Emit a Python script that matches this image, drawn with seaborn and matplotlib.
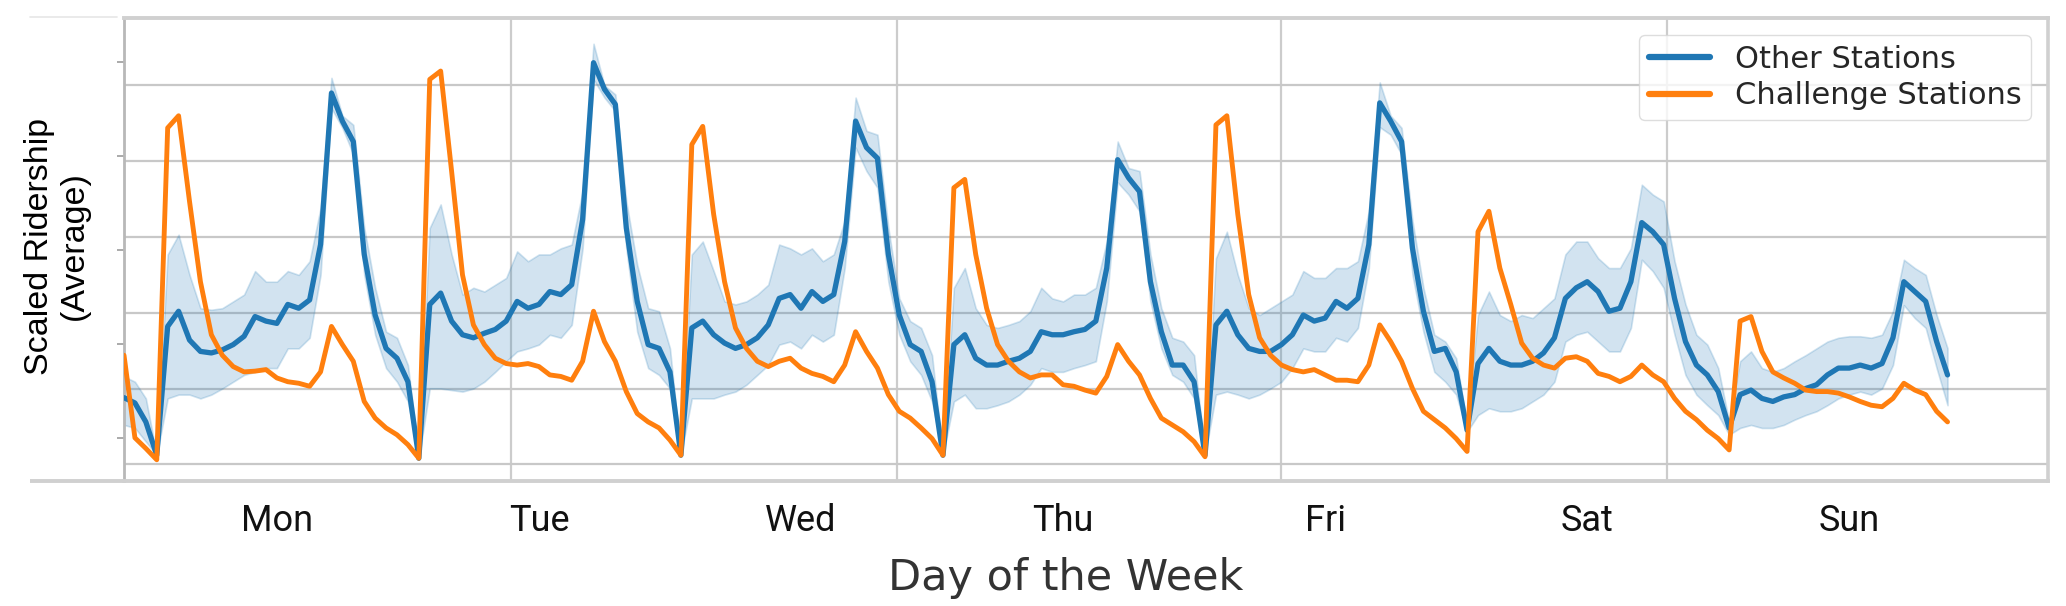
import numpy as np
import pandas as pd
import matplotlib
matplotlib.use("Agg")
import matplotlib.pyplot as plt
from matplotlib.lines import Line2D
from matplotlib.ticker import FixedLocator
import seaborn as sns

# ---------------- data (hourly, Monday 00:00 .. Sunday 23:00) ----------------
day_labels = ["Mon", "Tue", "Wed", "Thu", "Fri", "Sat", "Sun"]

challenge = [
    1.44, 0.35, 0.21, 0.06, 4.44, 4.60, 3.47, 2.41, 1.71, 1.44, 1.29, 1.22, 1.23, 1.25, 1.14, 1.09, 1.07, 1.03, 1.22, 1.82, 1.58, 1.36, 0.83, 0.61,
    0.48, 0.39, 0.26, 0.08, 5.08, 5.19, 3.87, 2.50, 1.84, 1.58, 1.40, 1.33, 1.31, 1.33, 1.29, 1.18, 1.16, 1.11, 1.36, 2.02, 1.62, 1.36, 0.96, 0.67,
    0.56, 0.48, 0.32, 0.12, 4.22, 4.46, 3.30, 2.41, 1.80, 1.53, 1.36, 1.29, 1.36, 1.40, 1.27, 1.20, 1.16, 1.09, 1.31, 1.75, 1.49, 1.27, 0.92, 0.70,
    0.61, 0.48, 0.34, 0.12, 3.65, 3.76, 2.77, 2.06, 1.58, 1.36, 1.22, 1.14, 1.18, 1.18, 1.05, 1.03, 0.98, 0.94, 1.16, 1.58, 1.36, 1.18, 0.87, 0.61,
    0.52, 0.43, 0.30, 0.10, 4.48, 4.60, 3.30, 2.24, 1.67, 1.44, 1.31, 1.25, 1.22, 1.25, 1.18, 1.11, 1.11, 1.09, 1.31, 1.84, 1.62, 1.36, 1.00, 0.70,
    0.59, 0.48, 0.34, 0.17, 3.07, 3.34, 2.59, 2.11, 1.60, 1.40, 1.31, 1.27, 1.40, 1.42, 1.36, 1.20, 1.16, 1.09, 1.16, 1.31, 1.18, 1.09, 0.87, 0.70,
    0.59, 0.45, 0.34, 0.19, 1.89, 1.95, 1.49, 1.22, 1.14, 1.07, 0.98, 0.96, 0.96, 0.94, 0.89, 0.83, 0.78, 0.76, 0.87, 1.07, 0.98, 0.92, 0.70, 0.56,
]

other_mean = [
    0.88, 0.81, 0.56, 0.12, 1.82, 2.02, 1.64, 1.49, 1.47, 1.51, 1.58, 1.69, 1.95, 1.89, 1.86, 2.11, 2.06, 2.17, 2.90, 4.90, 4.53, 4.26, 2.77, 1.97,
    1.53, 1.40, 1.09, 0.08, 2.11, 2.26, 1.89, 1.71, 1.67, 1.73, 1.78, 1.89, 2.15, 2.06, 2.11, 2.28, 2.24, 2.37, 3.23, 5.30, 4.95, 4.75, 3.12, 2.15,
    1.58, 1.53, 1.22, 0.12, 1.80, 1.89, 1.71, 1.60, 1.53, 1.58, 1.67, 1.84, 2.19, 2.24, 2.06, 2.28, 2.15, 2.24, 2.94, 4.53, 4.18, 4.04, 2.77, 1.97,
    1.58, 1.49, 1.09, 0.12, 1.58, 1.71, 1.40, 1.31, 1.31, 1.36, 1.40, 1.49, 1.75, 1.71, 1.71, 1.75, 1.78, 1.89, 2.59, 4.02, 3.78, 3.60, 2.41, 1.75,
    1.31, 1.31, 1.09, 0.12, 1.84, 2.02, 1.71, 1.53, 1.49, 1.49, 1.58, 1.71, 1.97, 1.89, 1.93, 2.15, 2.06, 2.19, 2.90, 4.77, 4.53, 4.26, 2.85, 2.02,
    1.49, 1.53, 1.22, 0.45, 1.33, 1.53, 1.36, 1.31, 1.31, 1.36, 1.47, 1.67, 2.19, 2.33, 2.41, 2.28, 2.02, 2.06, 2.41, 3.19, 3.07, 2.90, 2.19, 1.62,
    1.31, 1.18, 0.96, 0.48, 0.92, 0.98, 0.87, 0.83, 0.89, 0.92, 1.00, 1.05, 1.18, 1.27, 1.27, 1.31, 1.27, 1.33, 1.67, 2.41, 2.28, 2.15, 1.62, 1.18,
]

other_hi = [
    1.16, 1.09, 0.87, 0.12, 2.77, 3.03, 2.50, 2.06, 2.04, 2.06, 2.15, 2.24, 2.55, 2.41, 2.41, 2.55, 2.50, 2.68, 3.38, 5.10, 4.60, 4.48, 3.12, 2.33,
    1.75, 1.67, 1.31, 0.12, 3.12, 3.43, 2.77, 2.24, 2.33, 2.28, 2.37, 2.46, 2.81, 2.68, 2.77, 2.77, 2.85, 2.90, 3.60, 5.55, 5.00, 4.88, 3.47, 2.63,
    2.06, 2.02, 1.53, 0.12, 2.77, 2.94, 2.55, 2.15, 2.11, 2.15, 2.24, 2.37, 2.90, 2.85, 2.77, 2.85, 2.68, 2.77, 3.21, 4.84, 4.40, 4.35, 3.12, 2.19,
    1.89, 1.80, 1.44, 0.12, 2.33, 2.59, 2.06, 1.84, 1.80, 1.84, 1.89, 2.02, 2.33, 2.19, 2.15, 2.24, 2.24, 2.33, 2.94, 4.26, 3.91, 3.87, 2.77, 2.06,
    1.67, 1.62, 1.44, 0.12, 2.72, 3.07, 2.50, 2.06, 1.97, 2.06, 2.15, 2.24, 2.55, 2.46, 2.46, 2.59, 2.59, 2.68, 3.34, 5.04, 4.60, 4.44, 3.21, 2.33,
    1.71, 1.62, 1.40, 0.52, 1.97, 2.28, 1.97, 1.89, 1.97, 1.93, 2.06, 2.19, 2.77, 2.94, 2.94, 2.72, 2.59, 2.59, 2.85, 3.69, 3.56, 3.47, 2.68, 2.11,
    1.71, 1.58, 1.27, 0.56, 1.36, 1.49, 1.27, 1.22, 1.27, 1.36, 1.44, 1.53, 1.62, 1.67, 1.69, 1.69, 1.67, 1.71, 2.02, 2.70, 2.59, 2.50, 1.97, 1.53,
]

other_lo = [
    0.52, 0.48, 0.30, 0.12, 0.87, 0.92, 0.92, 0.87, 0.92, 1.00, 1.09, 1.18, 1.22, 1.27, 1.27, 1.53, 1.53, 1.67, 2.50, 4.70, 4.44, 4.09, 2.50, 1.71,
    1.27, 1.09, 0.83, 0.08, 1.00, 1.00, 0.98, 0.96, 1.00, 1.09, 1.22, 1.36, 1.49, 1.53, 1.58, 1.71, 1.67, 1.84, 2.85, 5.08, 4.84, 4.66, 2.85, 1.75,
    1.27, 1.18, 1.00, 0.12, 0.87, 0.87, 0.87, 0.92, 0.96, 1.05, 1.18, 1.31, 1.58, 1.62, 1.53, 1.71, 1.62, 1.71, 2.59, 4.18, 3.87, 3.65, 2.41, 1.71,
    1.36, 1.18, 0.83, 0.12, 0.83, 0.92, 0.74, 0.74, 0.78, 0.83, 0.92, 1.05, 1.27, 1.22, 1.22, 1.27, 1.31, 1.36, 2.15, 3.72, 3.56, 3.34, 2.15, 1.53,
    1.18, 1.09, 0.87, 0.12, 0.92, 0.96, 0.92, 0.87, 0.92, 1.00, 1.09, 1.27, 1.53, 1.49, 1.49, 1.67, 1.62, 1.80, 2.59, 4.45, 4.35, 4.09, 2.50, 1.75,
    1.22, 1.09, 0.92, 0.43, 0.65, 0.74, 0.70, 0.70, 0.74, 0.83, 0.92, 1.09, 1.62, 1.71, 1.75, 1.62, 1.49, 1.49, 1.80, 2.70, 2.55, 2.33, 1.71, 1.18,
    0.92, 0.78, 0.65, 0.39, 0.48, 0.52, 0.48, 0.48, 0.52, 0.59, 0.65, 0.70, 0.78, 0.87, 0.92, 0.96, 0.92, 1.00, 1.31, 2.10, 1.93, 1.80, 1.27, 0.78,
]

hours = np.arange(len(challenge))
df = pd.DataFrame({"hour": hours, "challenge": challenge, "other": other_mean,
                   "lo": other_lo, "hi": other_hi})

# ---------------- style ----------------
sns.set_style("whitegrid")
plt.rcParams["font.family"] = ["DejaVu Sans"]

BLUE = "#1f77b4"
ORANGE = "#ff7f0e"

fig = plt.figure(figsize=(20.66, 6.06), dpi=100)
W, H = 2066, 606
ax_l, ax_r, ax_t, ax_b = 124, 2048, 18, 481
ax = fig.add_axes([ax_l / W, (H - ax_b) / H, (ax_r - ax_l) / W, (ax_b - ax_t) / H])

ax.fill_between(df["hour"], df["lo"], df["hi"], color=BLUE, alpha=0.2,
                linewidth=1.2, edgecolor=(0.12, 0.47, 0.71, 0.25), zorder=2)
sns.lineplot(data=df, x="hour", y="other", ax=ax, color=BLUE, linewidth=3.8,
             label="Other Stations", zorder=3)
sns.lineplot(data=df, x="hour", y="challenge", ax=ax, color=ORANGE, linewidth=3.5,
             label="Challenge Stations", zorder=4)

ax.set_xlim(0, 176.2)
ax.set_ylim(-0.22, 5.89)

# x: day labels (no grid) + vertical grid lines at minor positions
ax.set_xticks(14 + 24 * np.arange(len(day_labels)))
ax.set_xticklabels(day_labels, family="Roboto", fontsize=26, color="#111111")
ax.xaxis.set_minor_locator(FixedLocator([0, 35.45, 70.8, 105.95, 141.35]))
ax.tick_params(axis="x", which="major", length=0, pad=16)
ax.tick_params(axis="x", which="minor", length=0)
ax.grid(False, axis="x", which="major")
ax.grid(True, axis="x", which="minor", color="#cccccc", linewidth=1.6)

# y: grid at integers, small marks at another spacing, no labels
ax.set_yticks(np.arange(0, 6))
ax.set_yticklabels([])
ax.yaxis.set_minor_locator(FixedLocator([0.35, 1.59, 2.83, 4.07, 5.31]))
ax.tick_params(axis="y", which="major", length=0)
ax.tick_params(axis="y", which="minor", left=True, length=5, width=1.4,
               color="#aaaaaa", direction="out")
ax.grid(True, axis="y", which="major", color="#c8c8c8", linewidth=1.6)

for side, col, lw in [("left", "#b8b8b8", 2.0), ("top", "#d0d0d0", 2.8),
                      ("right", "#d0d0d0", 2.6), ("bottom", "#d0d0d0", 2.8)]:
    ax.spines[side].set_visible(True)
    ax.spines[side].set_color(col)
    ax.spines[side].set_linewidth(lw)

ax.set_ylabel("Scaled Ridership\n(Average)", family="Liberation Sans",
              fontsize=24.5, color="black", va="center", ha="center",
              linespacing=1.15)
ax.yaxis.set_label_coords((57 - ax_l) / (ax_r - ax_l), (ax_b - 246) / (ax_b - ax_t))
ax.set_xlabel("Day of the Week", fontsize=31, color="#333333", va="center")
ax.xaxis.set_label_coords((1066 - ax_l) / (ax_r - ax_l), (ax_b - 578) / (ax_b - ax_t))

leg = ax.legend(loc="upper right", fontsize=22, frameon=True, framealpha=0.8,
                edgecolor="#d5d5d5", fancybox=True, borderpad=0.32,
                labelspacing=0.25, handlelength=2.0, handletextpad=0.8,
                borderaxespad=0.55)
for t in leg.get_texts():
    t.set_color("#262626")
for l in leg.get_lines():
    l.set_linewidth(4.5)

# stray frame lines at the far left of the original picture
fig.add_artist(Line2D([30 / W, ax_l / W], [(H - ax_b) / H] * 2, color="#d0d0d0",
                      linewidth=2.8, solid_capstyle="butt"))
fig.add_artist(Line2D([30 / W, 117 / W], [(H - 17) / H] * 2, color="#e6e6e6",
                      linewidth=1.2))

fig.savefig("out.png", dpi=100)
